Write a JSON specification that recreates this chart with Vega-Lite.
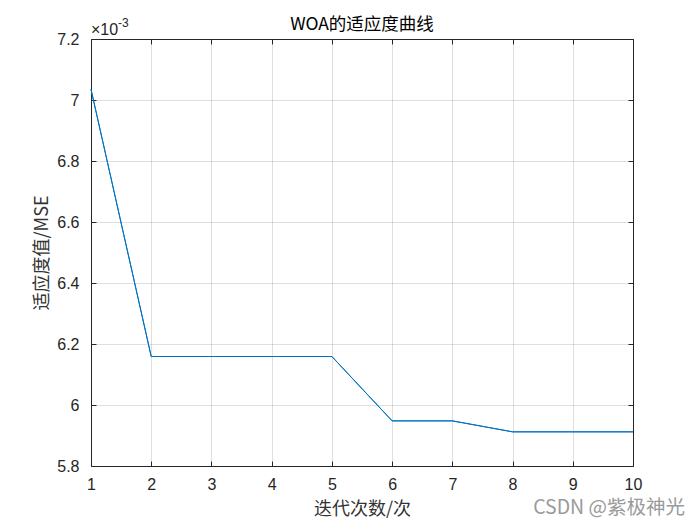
{
  "$schema": "https://vega.github.io/schema/vega-lite/v6.json",
  "width": 542,
  "height": 427,
  "autosize": "none",
  "padding": {"left": 91, "top": 39, "right": 67, "bottom": 59},
  "background": "white",
  "config": {
    "view": {"stroke": null},
    "font": "Liberation Sans"
  },
  "title": {
    "text": "WOA的适应度曲线",
    "font": "Noto Sans CJK SC",
    "fontSize": 17.5,
    "fontWeight": "normal",
    "color": "#000000",
    "anchor": "middle",
    "offset": -16
  },
  "data": {
    "values": [
      {"iter": 1, "mse": 0.007035},
      {"iter": 2, "mse": 0.006159},
      {"iter": 3, "mse": 0.006159},
      {"iter": 4, "mse": 0.006159},
      {"iter": 5, "mse": 0.006159},
      {"iter": 6, "mse": 0.005948},
      {"iter": 7, "mse": 0.005948},
      {"iter": 8, "mse": 0.005912},
      {"iter": 9, "mse": 0.005912},
      {"iter": 10, "mse": 0.005912}
    ]
  },
  "resolve": {"axis": {"x": "independent", "y": "independent"}},
  "layer": [
    {
      "mark": {"type": "line", "color": "#0072BD", "strokeWidth": 1},
      "encoding": {
        "x": {
          "field": "iter", "type": "quantitative",
          "scale": {"domain": [1, 10], "nice": false, "zero": false},
          "axis": {
            "orient": "bottom",
            "values": [1, 2, 3, 4, 5, 6, 7, 8, 9, 10],
            "title": "迭代次数/次",
            "titleFont": "Noto Sans CJK SC",
            "titleFontSize": 18,
            "titleFontWeight": "normal",
            "titleColor": "#333333",
            "titlePadding": 8,
            "labelFont": "Liberation Sans",
            "labelFontSize": 16,
            "labelColor": "#262626",
            "labelPadding": 15,
            "labelFlush": false,
            "tickSize": -5,
            "tickColor": "#262626",
            "domainColor": "#262626",
            "grid": true,
            "gridColor": "#262626",
            "gridOpacity": 0.15
          }
        },
        "y": {
          "field": "mse", "type": "quantitative",
          "scale": {"domain": [0.0058, 0.0072], "nice": false, "zero": false},
          "axis": {
            "orient": "left",
            "values": [0.0058, 0.006, 0.0062, 0.0064, 0.0066, 0.0068, 0.007, 0.0072],
            "labelExpr": "format(datum.value * 1000, '~g')",
            "title": "适应度值/MSE",
            "titleFont": "Noto Sans CJK SC",
            "titleFontSize": 18,
            "titleFontWeight": "normal",
            "titleColor": "#333333",
            "titlePadding": 5,
            "labelFont": "Liberation Sans",
            "labelFontSize": 16,
            "labelColor": "#262626",
            "labelPadding": 17,
            "labelFlush": false,
            "tickSize": -5,
            "tickColor": "#262626",
            "domainColor": "#262626",
            "grid": true,
            "gridColor": "#262626",
            "gridOpacity": 0.15
          }
        }
      }
    },
    {
      "mark": {"type": "line", "color": "#0072BD", "strokeWidth": 1},
      "encoding": {
        "x": {
          "field": "iter", "type": "quantitative",
          "axis": {
            "orient": "top",
            "values": [1, 2, 3, 4, 5, 6, 7, 8, 9, 10],
            "labels": false, "title": null, "grid": false,
            "tickSize": -5, "tickColor": "#262626", "domainColor": "#262626"
          }
        },
        "y": {
          "field": "mse", "type": "quantitative",
          "axis": {
            "orient": "right",
            "values": [0.0058, 0.006, 0.0062, 0.0064, 0.0066, 0.0068, 0.007, 0.0072],
            "labels": false, "title": null, "grid": false,
            "tickSize": -5, "tickColor": "#262626", "domainColor": "#262626"
          }
        }
      }
    },
    {
      "data": {"values": [{"iter": 1, "mse": 0.0072, "t": "×10"}]},
      "mark": {"type": "text", "align": "left", "baseline": "alphabetic", "dx": 0, "dy": -4, "fontSize": 16, "font": "Liberation Sans", "color": "#262626"},
      "encoding": {
        "x": {"field": "iter", "type": "quantitative", "axis": null},
        "y": {"field": "mse", "type": "quantitative", "axis": null},
        "text": {"field": "t"}
      }
    },
    {
      "data": {"values": [{"iter": 1, "mse": 0.0072, "t": "-3"}]},
      "mark": {"type": "text", "align": "left", "baseline": "alphabetic", "dx": 27, "dy": -12, "fontSize": 12, "font": "Liberation Sans", "color": "#262626"},
      "encoding": {
        "x": {"field": "iter", "type": "quantitative", "axis": null},
        "y": {"field": "mse", "type": "quantitative", "axis": null},
        "text": {"field": "t"}
      }
    },
    {
      "data": {"values": [{"iter": 10, "mse": 0.0058, "t": "CSDN @紫极神光"}]},
      "mark": {"type": "text", "align": "right", "baseline": "middle", "dx": 52, "dy": 42, "fontSize": 19.5, "font": "Noto Sans CJK SC", "color": "#9a9a9a"},
      "encoding": {
        "x": {"field": "iter", "type": "quantitative", "axis": null},
        "y": {"field": "mse", "type": "quantitative", "axis": null},
        "text": {"field": "t"}
      }
    }
  ]
}
